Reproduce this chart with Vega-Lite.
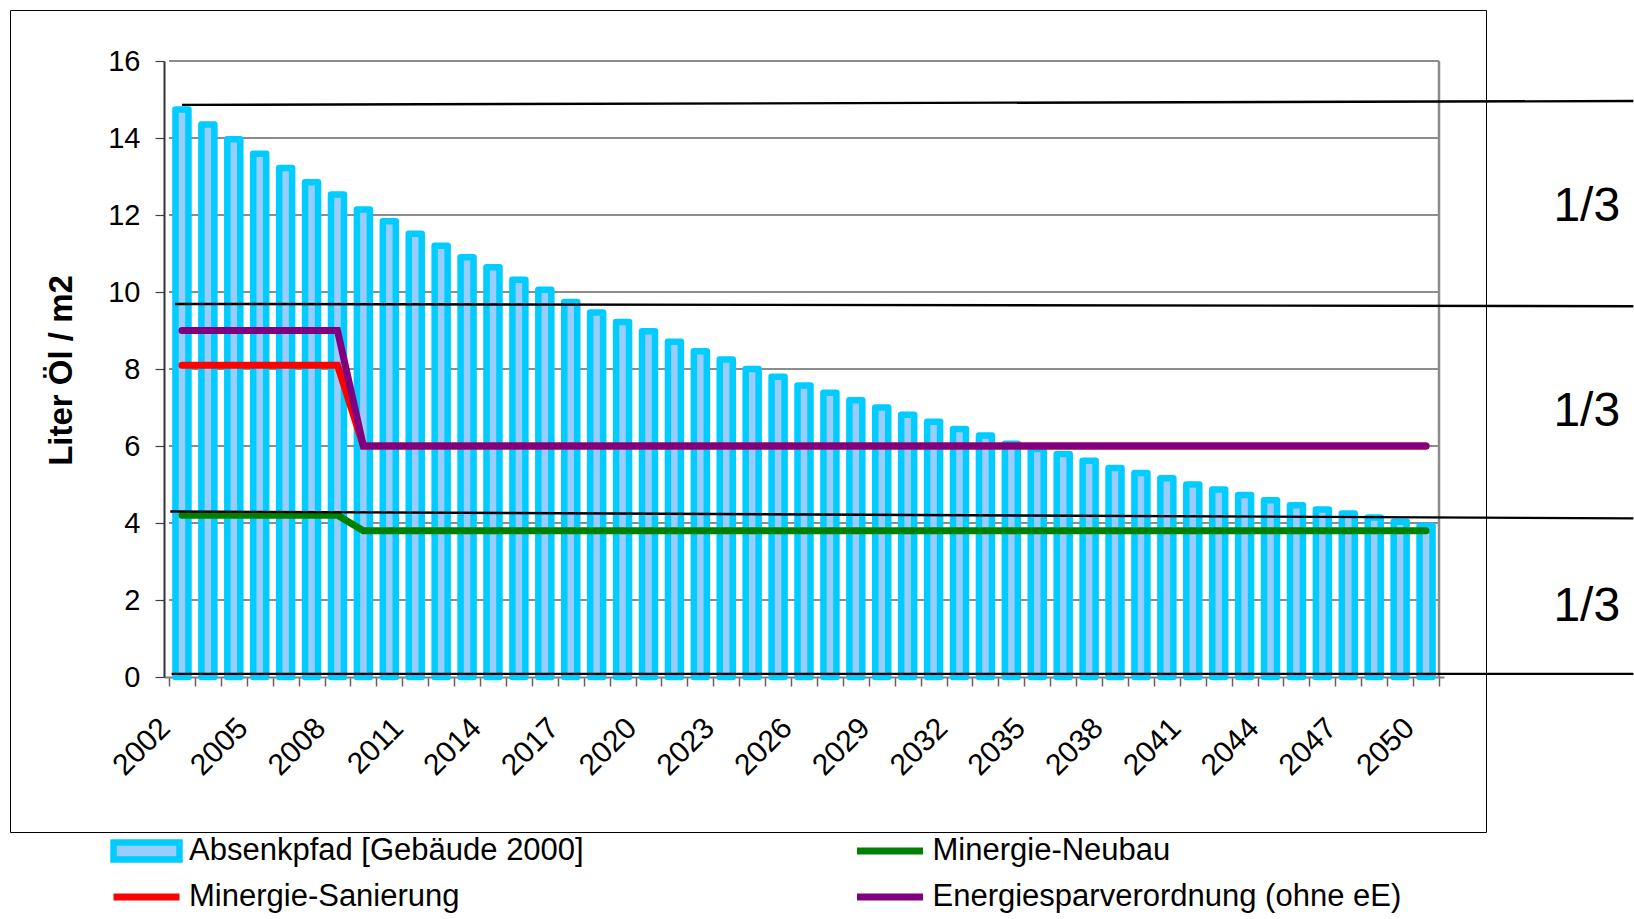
{
  "$schema": "https://vega.github.io/schema/vega-lite/v6.json",
  "width": 1476,
  "height": 822,
  "autosize": {"type": "none"},
  "padding": {"left": 10, "top": 10, "right": 148, "bottom": 87},
  "background": "#ffffff",
  "config": {
    "font": "Liberation Sans",
    "view": {"stroke": "#000000", "strokeWidth": 1},
    "axis": {"labelOverlap": false, "labelBound": false, "labelFlush": false}
  },
  "datasets": {
    "bars": [
      {"year": 2002, "value": 14.74}, {"year": 2003, "value": 14.35}, {"year": 2004, "value": 13.97},
      {"year": 2005, "value": 13.59}, {"year": 2006, "value": 13.22}, {"year": 2007, "value": 12.85},
      {"year": 2008, "value": 12.53}, {"year": 2009, "value": 12.14}, {"year": 2010, "value": 11.84},
      {"year": 2011, "value": 11.51}, {"year": 2012, "value": 11.2}, {"year": 2013, "value": 10.9},
      {"year": 2014, "value": 10.64}, {"year": 2015, "value": 10.32}, {"year": 2016, "value": 10.06},
      {"year": 2017, "value": 9.74}, {"year": 2018, "value": 9.47}, {"year": 2019, "value": 9.22},
      {"year": 2020, "value": 8.98}, {"year": 2021, "value": 8.71}, {"year": 2022, "value": 8.46},
      {"year": 2023, "value": 8.25}, {"year": 2024, "value": 8.0}, {"year": 2025, "value": 7.8},
      {"year": 2026, "value": 7.57}, {"year": 2027, "value": 7.38}, {"year": 2028, "value": 7.19},
      {"year": 2029, "value": 7.0}, {"year": 2030, "value": 6.81}, {"year": 2031, "value": 6.63},
      {"year": 2032, "value": 6.44}, {"year": 2033, "value": 6.27}, {"year": 2034, "value": 6.06},
      {"year": 2035, "value": 5.92}, {"year": 2036, "value": 5.79}, {"year": 2037, "value": 5.62},
      {"year": 2038, "value": 5.43}, {"year": 2039, "value": 5.3}, {"year": 2040, "value": 5.16},
      {"year": 2041, "value": 5.0}, {"year": 2042, "value": 4.87}, {"year": 2043, "value": 4.73},
      {"year": 2044, "value": 4.59}, {"year": 2045, "value": 4.46}, {"year": 2046, "value": 4.35},
      {"year": 2047, "value": 4.25}, {"year": 2048, "value": 4.14}, {"year": 2049, "value": 4.03},
      {"year": 2050, "value": 3.92}
    ],
    "lines": [
      {"series": "Minergie-Sanierung", "year": 2002, "value": 8.1},
      {"series": "Minergie-Sanierung", "year": 2008, "value": 8.1},
      {"series": "Minergie-Sanierung", "year": 2009, "value": 6.0},
      {"series": "Minergie-Sanierung", "year": 2050, "value": 6.0},
      {"series": "Minergie-Neubau", "year": 2002, "value": 4.2},
      {"series": "Minergie-Neubau", "year": 2008, "value": 4.2},
      {"series": "Minergie-Neubau", "year": 2009, "value": 3.8},
      {"series": "Minergie-Neubau", "year": 2050, "value": 3.8},
      {"series": "Energiesparverordnung (ohne eE)", "year": 2002, "value": 9.0},
      {"series": "Energiesparverordnung (ohne eE)", "year": 2008, "value": 9.0},
      {"series": "Energiesparverordnung (ohne eE)", "year": 2009, "value": 6.0},
      {"series": "Energiesparverordnung (ohne eE)", "year": 2050, "value": 6.0}
    ],
    "grid": [{"v": 2}, {"v": 4}, {"v": 6}, {"v": 8}, {"v": 10}, {"v": 12}, {"v": 14}],
    "thirds": [
      {"x0": 2002.0, "y0": 14.86, "x1": 2058.0, "y1": 14.96},
      {"x0": 2001.73, "y0": 9.69, "x1": 2058.0, "y1": 9.63},
      {"x0": 2001.55, "y0": 4.3, "x1": 2058.0, "y1": 4.12},
      {"x0": 2001.6, "y0": 0.08, "x1": 2058.0, "y1": 0.08}
    ],
    "thirdLabels": [
      {"text": "1/3", "mid": 12.2},
      {"text": "1/3", "mid": 6.88},
      {"text": "1/3", "mid": 1.82}
    ]
  },
  "layer": [
    {
      "data": {"name": "grid"},
      "mark": {"type": "rule", "stroke": "#666666", "strokeWidth": 1.3},
      "encoding": {
        "y": {"field": "v", "type": "quantitative"},
        "x": {"datum": 2001.5, "type": "quantitative"},
        "x2": {"datum": 2050.5}
      }
    },
    {
      "data": {"values": [{}]},
      "mark": {"type": "rule", "stroke": "#8c8c8c", "strokeWidth": 2},
      "encoding": {
        "y": {"datum": 16, "type": "quantitative"},
        "x": {"datum": 2001.5, "type": "quantitative"},
        "x2": {"datum": 2050.5}
      }
    },
    {
      "data": {"values": [{}]},
      "mark": {"type": "rule", "stroke": "#8c8c8c", "strokeWidth": 2.5},
      "encoding": {
        "x": {"datum": 2050.5, "type": "quantitative"},
        "y": {"datum": 0, "type": "quantitative"},
        "y2": {"datum": 16}
      }
    },
    {
      "data": {"name": "bars"},
      "mark": {"type": "bar", "orient": "vertical", "width": 13, "stroke": "#00CCFF", "strokeWidth": 6.5, "strokeJoin": "round"},
      "encoding": {
        "x": {
          "field": "year", "type": "quantitative",
          "scale": {"domain": [2001.5, 2050.5], "range": [154, 1434], "nice": false, "zero": false},
          "axis": {
            "values": [2001.5, 2002.5, 2003.5, 2004.5, 2005.5, 2006.5, 2007.5, 2008.5, 2009.5, 2010.5,
                       2011.5, 2012.5, 2013.5, 2014.5, 2015.5, 2016.5, 2017.5, 2018.5, 2019.5, 2020.5,
                       2021.5, 2022.5, 2023.5, 2024.5, 2025.5, 2026.5, 2027.5, 2028.5, 2029.5, 2030.5,
                       2031.5, 2032.5, 2033.5, 2034.5, 2035.5, 2036.5, 2037.5, 2038.5, 2039.5, 2040.5,
                       2041.5, 2042.5, 2043.5, 2044.5, 2045.5, 2046.5, 2047.5, 2048.5, 2049.5, 2050.5],
            "tickCount": 100,
            "title": null,
            "orient": "bottom",
            "offset": -155,
            "grid": false,
            "tickSize": 9,
            "tickColor": "#606060",
            "tickWidth": 1.5,
            "domainColor": "#808080",
            "domainWidth": 2,
            "labelExpr": "((datum.value - 2001.5) % 3 == 0) ? ('' + (datum.value + 0.5)) : ''",
            "labelAngle": -45,
            "labelAlign": "right",
            "labelBaseline": "middle",
            "labelFontSize": 30,
            "labelColor": "#000000",
            "labelPadding": 37,
            "labelOffset": -4,
            "labelOverlap": false,
            "labelBound": false,
            "labelFlush": false
          }
        },
        "y": {
          "field": "value", "type": "quantitative",
          "scale": {"domain": [0, 16], "range": [667, 51], "nice": false, "zero": false},
          "axis": {
            "values": [0, 2, 4, 6, 8, 10, 12, 14, 16],
            "tickCount": 20,
            "title": "Liter Öl / m2",
            "orient": "left",
            "offset": -154,
            "grid": false,
            "tickSize": 9,
            "tickColor": "#404040",
            "tickWidth": 1.2,
            "domainColor": "#333333",
            "domainWidth": 2,
            "labelFontSize": 29,
            "labelColor": "#000000",
            "labelPadding": 15,
            "labelFlush": false,
            "labelOverlap": false,
            "titleFontSize": 33,
            "titleFontWeight": "bold",
            "titleColor": "#000000",
            "titleAngle": -90,
            "titleAlign": "center",
            "titleBaseline": "middle",
            "titleX": -103,
            "titleY": 360
          }
        },
        "fill": {
          "datum": "Absenkpfad [Gebäude 2000]",
          "type": "nominal",
          "scale": {"domain": ["Absenkpfad [Gebäude 2000]"], "range": ["#99CCFF"]},
          "legend": {
            "title": null, "orient": "none", "legendX": 100, "legendY": 818,
            "direction": "vertical", "padding": 0, "clipHeight": 46,
            "symbolType": "M-1,-0.258H1V0.258H-1Z", "symbolSize": 4356,
            "symbolStrokeColor": "#00CCFF", "symbolStrokeWidth": 6.5,
            "labelFontSize": 31, "labelColor": "#000000", "labelOffset": 6, "labelLimit": 1000
          }
        }
      }
    },
    {
      "data": {"name": "lines"},
      "transform": [{"filter": "datum.series == 'Minergie-Sanierung'"}],
      "mark": {"type": "line", "strokeWidth": 7, "strokeCap": "round"},
      "encoding": {
        "x": {"field": "year", "type": "quantitative"},
        "y": {"field": "value", "type": "quantitative"},
        "color": {
          "field": "series", "type": "nominal",
          "scale": {"domain": ["Minergie-Sanierung"], "range": ["#FF0000"]},
          "legend": {
            "title": null, "orient": "none", "legendX": 100, "legendY": 864,
            "direction": "vertical", "padding": 0, "clipHeight": 46,
            "symbolType": "stroke", "symbolSize": 4356, "symbolStrokeWidth": 7,
            "labelFontSize": 31, "labelColor": "#000000", "labelOffset": 6, "labelLimit": 1000
          }
        }
      }
    },
    {
      "data": {"name": "lines"},
      "transform": [{"filter": "datum.series != 'Minergie-Sanierung'"}],
      "mark": {"type": "line", "strokeWidth": 7, "strokeCap": "round"},
      "encoding": {
        "x": {"field": "year", "type": "quantitative"},
        "y": {"field": "value", "type": "quantitative"},
        "stroke": {
          "field": "series", "type": "nominal",
          "scale": {"domain": ["Minergie-Neubau", "Energiesparverordnung (ohne eE)"], "range": ["#008000", "#800080"]},
          "legend": {
            "title": null, "orient": "none", "legendX": 843.5, "legendY": 818,
            "direction": "vertical", "padding": 0, "clipHeight": 46, "rowPadding": 0,
            "symbolType": "stroke", "symbolSize": 4356, "symbolStrokeWidth": 7,
            "labelFontSize": 31, "labelColor": "#000000", "labelOffset": 6, "labelLimit": 1000
          }
        }
      }
    },
    {
      "data": {"name": "thirds"},
      "mark": {"type": "rule", "stroke": "#000000", "strokeWidth": 2.4},
      "encoding": {
        "x": {"field": "x0", "type": "quantitative"},
        "x2": {"field": "x1"},
        "y": {"field": "y0", "type": "quantitative"},
        "y2": {"field": "y1"}
      }
    },
    {
      "data": {"name": "thirdLabels"},
      "mark": {"type": "text", "fontSize": 48, "align": "center", "baseline": "middle", "color": "#000000"},
      "encoding": {
        "x": {"datum": 2056.2, "type": "quantitative"},
        "y": {"field": "mid", "type": "quantitative"},
        "text": {"field": "text"}
      }
    }
  ]
}
